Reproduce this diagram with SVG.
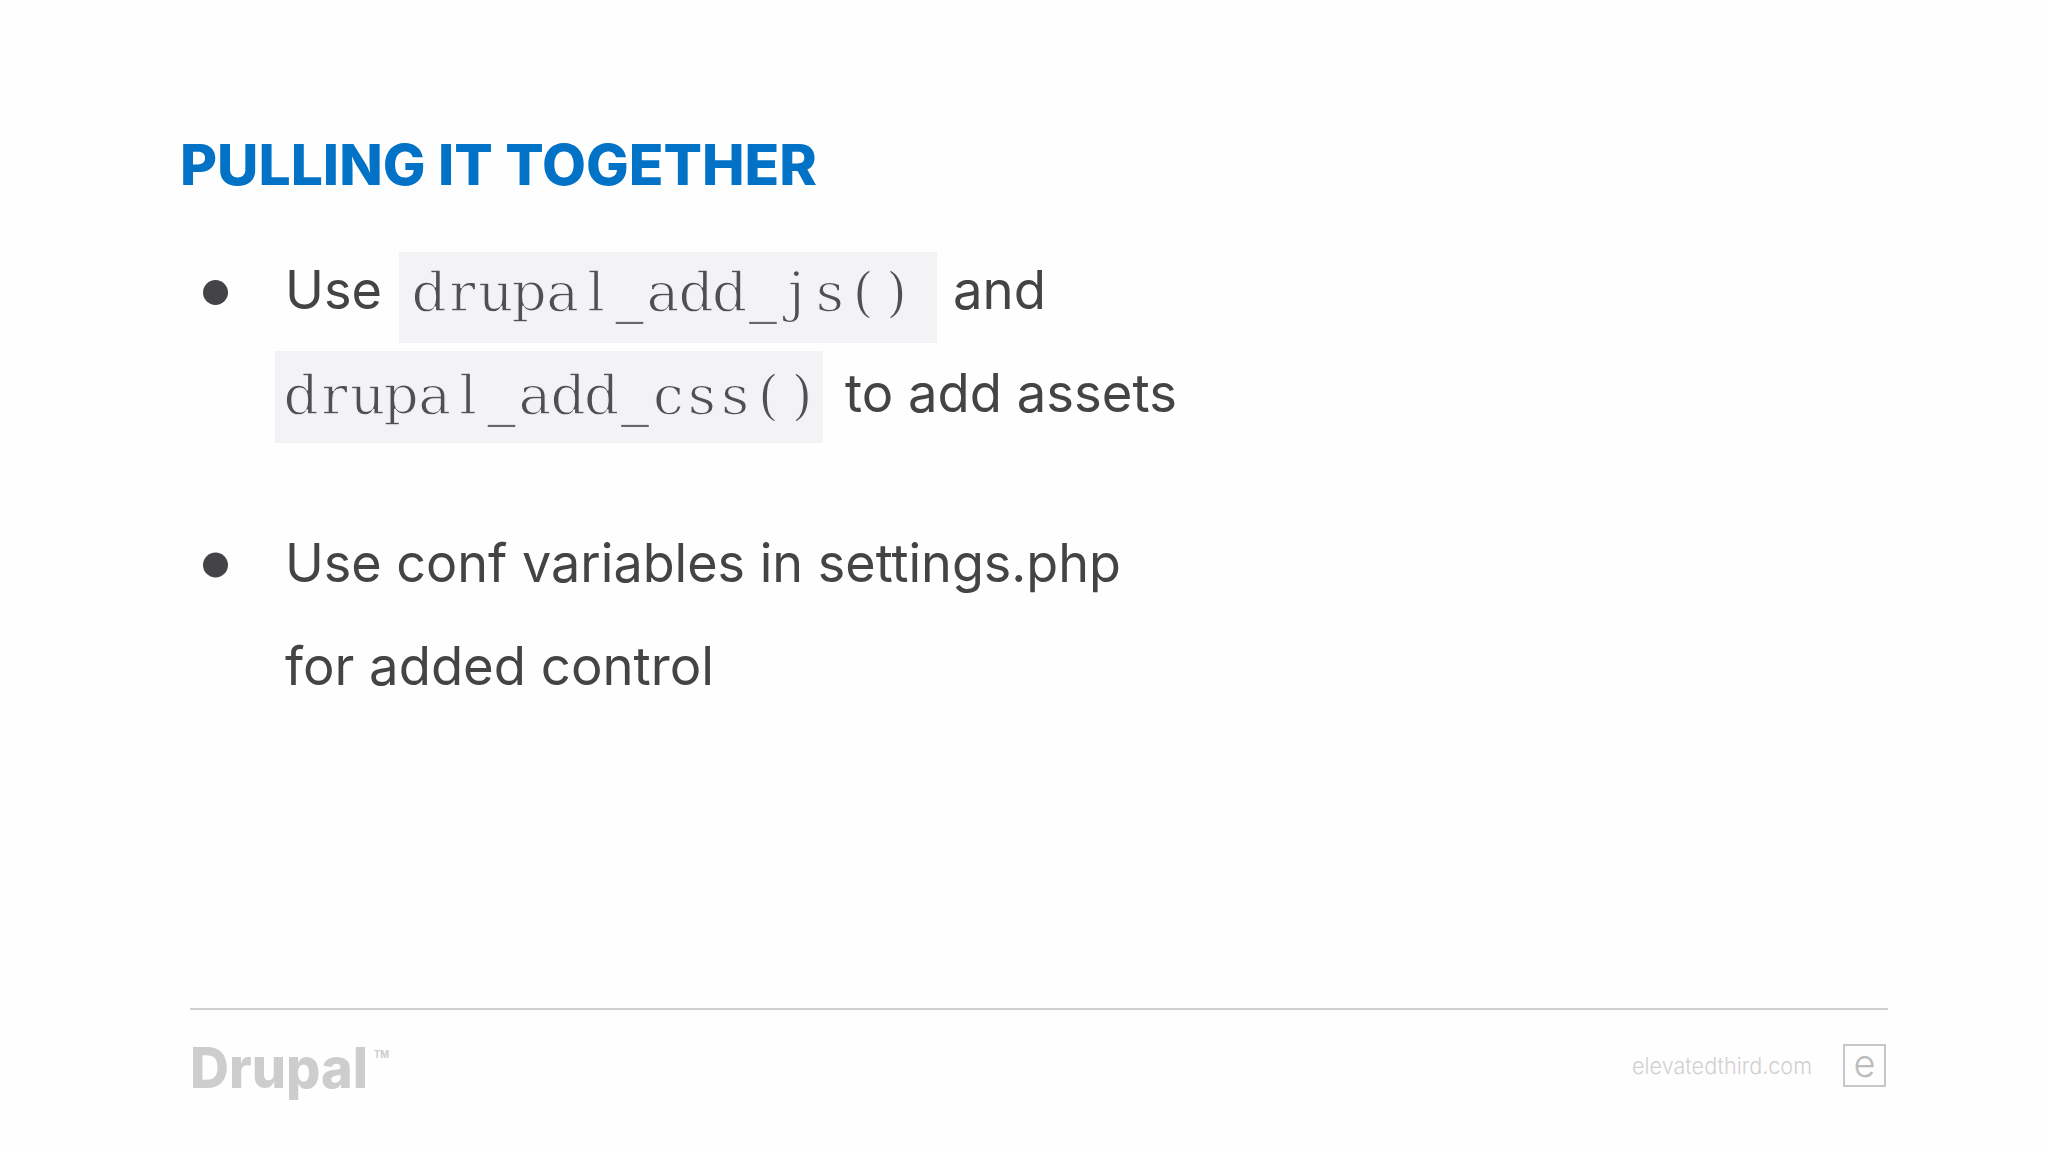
<svg xmlns="http://www.w3.org/2000/svg" width="2048" height="1152" viewBox="0 0 2048 1152">
<style>
.b{font-family:"Inter","Open Sans","Liberation Sans",sans-serif;font-size:53px;fill:#444447}
.c{font-family:"DejaVu Serif","Liberation Serif",serif;font-size:55px;fill:#505054;stroke:#f3f2f4;stroke-width:1.3px;text-anchor:middle}
.u{stroke:none;fill:#66666a}
.r{fill:#f3f2f4}
.d{fill:#444447}
.f{font-family:"Inter","Liberation Sans",sans-serif}
</style>
<rect width="2048" height="1152" fill="#fefefe"/>
<g id="title"><text x="180" y="184.5" font-family="Inter,'Liberation Sans',sans-serif" font-weight="800" font-size="56" fill="#0272c6" textLength="637" lengthAdjust="spacingAndGlyphs">PULLING IT TOGETHER</text></g>
<g id="bullet-1">
<circle class="d" cx="215.5" cy="292.5" r="12.5"/>
<text class="b" x="285" y="309" textLength="97" lengthAdjust="spacingAndGlyphs">Use</text>
<rect class="r" x="399" y="252" width="538" height="91"/>
<text class="c" y="311"><tspan x="429 462.4 495.8 529.2 562.6 596">drupal</tspan><tspan class="u" x="629.4">_</tspan><tspan x="662.8 696.2 729.6">add</tspan><tspan class="u" x="763">_</tspan><tspan x="796.4 829.8 863.2 896.6">js()</tspan></text>
<text class="b" x="953" y="309" textLength="93" lengthAdjust="spacingAndGlyphs">and</text>
<rect class="r" x="275" y="351" width="548" height="92"/>
<text class="c" y="414"><tspan x="301 334.4 367.8 401.2 434.6 468">drupal</tspan><tspan class="u" x="501.4">_</tspan><tspan x="534.8 568.2 601.6">add</tspan><tspan class="u" x="635">_</tspan><tspan x="668.4 701.8 735.2 768.6 802">css()</tspan></text>
<text class="b" x="845" y="411.5" textLength="332" lengthAdjust="spacingAndGlyphs">to add assets</text>
</g>
<g id="bullet-2">
<circle class="d" cx="215.5" cy="565" r="12.5"/>
<text class="b" x="285" y="582" textLength="836" lengthAdjust="spacingAndGlyphs">Use conf variables in settings.php</text>
<text class="b" x="285" y="685" textLength="429" lengthAdjust="spacingAndGlyphs">for added control</text>
</g>
<g id="footer">
<rect x="190" y="1008" width="1698" height="2" fill="#d0ced0"/>
<text class="f" x="190" y="1088" font-size="56" font-weight="800" fill="#cdcdcd" textLength="178" lengthAdjust="spacingAndGlyphs">Drupal</text>
<text class="f" x="374" y="1058" font-size="11" font-weight="700" fill="#cdcdcd" textLength="15" lengthAdjust="spacingAndGlyphs">TM</text>
<text class="f" x="1632" y="1074" font-size="23" font-weight="300" fill="#d2d0d2" textLength="180" lengthAdjust="spacingAndGlyphs">elevatedthird.com</text>
<rect x="1844" y="1045" width="41" height="41" fill="none" stroke="#c8c7c8" stroke-width="2"/>
<text class="f" x="1864.5" y="1077" font-size="38" font-weight="300" fill="#bdbcbd" text-anchor="middle">e</text>
</g>
</svg>
